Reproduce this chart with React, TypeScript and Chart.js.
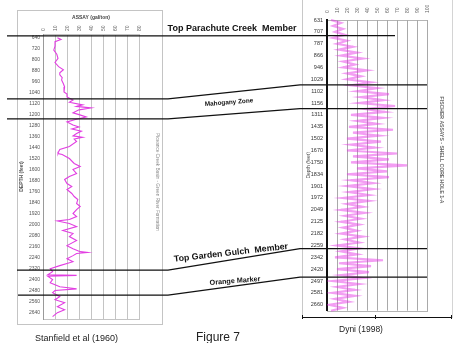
import React, { useEffect, useRef } from 'react';
import { Chart, registerables } from 'chart.js';

Chart.register(...registerables);

const FONT = '"Liberation Sans", Arial, Helvetica, sans-serif';

// ---------- Stanfield et al (1960): depth (feet) vs assay (gal/ton)
const stanfieldDepth = [
  640, 652, 668, 700, 730, 760, 790, 820, 850, 873, 895, 910, 930, 947, 975, 998,
  1034, 1050, 1071, 1093, 1110, 1129, 1140, 1151, 1165, 1187, 1200, 1217, 1235, 1253, 1275,
  1290, 1305, 1320, 1337, 1355, 1366, 1378, 1396, 1432, 1454, 1470, 1483, 1490, 1520, 1556,
  1578, 1600, 1630, 1651, 1673, 1702, 1724, 1746, 1775, 1797, 1819, 1848, 1870, 1892, 1921,
  1943, 1965, 1975, 1994, 2016, 2045, 2067, 2089, 2118, 2155, 2177, 2199, 2205, 2212, 2228,
  2250, 2272, 2301, 2323, 2345, 2367, 2372, 2378, 2403, 2425, 2455, 2470, 2482, 2498, 2527,
  2549, 2571, 2600, 2622, 2644, 2673,
];
const stanfieldAssay = [
  12, 15, 10, 10, 9, 11.5, 12.5, 10, 13, 17, 14, 14, 16, 15.5, 17, 18,
  17.5, 20, 20, 25, 22, 33, 28, 40, 30, 25, 30, 36, 27, 20, 25,
  30, 24, 32, 28, 25, 33, 26, 28, 22, 14, 13, 12.5, 16, 22, 26,
  31, 25, 28, 22, 18, 20, 24, 20, 24, 26, 29, 28, 31, 28, 25,
  28, 22, 12, 22, 28, 16.5, 25, 22, 28, 20, 25, 31, 37, 28, 25,
  20, 25, 14, 6, 8, 4, 28, 4, 8, 6, 14, 28, 10, 8, 14,
  10, 18, 12, 18, 12, 8,
];
const stanfieldDepthTicks = [
  640, 720, 800, 880, 960, 1040, 1120, 1200, 1280, 1360, 1440, 1520, 1600,
  1680, 1760, 1840, 1920, 2000, 2080, 2160, 2240, 2320, 2400, 2480, 2560, 2640,
];
const stanfieldAssayTicks = [0, 10, 20, 30, 40, 50, 60, 70, 80];

// ---------- Dyni (1998): labelled sample depths and assay per sample (4 samples per label)
const dyniDepthLabels = [
  '631', '707', '787', '866', '946', '1029', '1102', '1156', '1311', '1435', '1502', '1670',
  '1750', '1834', '1901', '1972', '2049', '2125', '2182', '2259', '2342', '2420', '2497', '2581', '2660',
];
const dyniAssay = [
  4, 14, 6, 16,
  8, 18, 6, 20,
  10, 26, 12, 30,
  14, 36, 16, 28,
  16, 40, 20, 34,
  20, 44, 24, 50,
  30, 62, 34, 56,
  32, 68, 38, 58,
  24, 56, 30, 50,
  22, 66, 26, 52,
  20, 54, 24, 48,
  20, 70, 26, 62,
  24, 80, 30, 60,
  20, 62, 24, 46,
  20, 46, 22, 42,
  16, 42, 20, 36,
  14, 38, 18, 34,
  14, 32, 16, 30,
  14, 36, 18, 32,
  10, 32, 14, 30,
  8, 56, 12, 44,
  10, 42, 14, 36,
  6, 32, 10, 28,
  6, 28, 8, 22,
  2, 16, 4,
];
const dyniAssayTicks = [0, 10, 20, 30, 40, 50, 60, 70, 80, 90, 100];
const dyniCategories = dyniDepthLabels.flatMap((l, i) =>
  i < dyniDepthLabels.length - 1 ? [l, '', '', ''] : [l, '', '']
);

// ---------- Correlation markers
const markerNames = [
  'Top Parachute Creek  Member',
  'Mahogany Zone',
  '',
  'Top Garden Gulch  Member',
  'Orange Marker',
];
const markerStanfieldDepth = [625, 1085, 1231, 2334, 2516];
const markerDyniSample = [5.3, 21.9, 29.9, 77.1, 86.7];

// ---------- layout (positions / styles)
const W = 454;
const H = 343;
const LEFT = { x: 17, y: 10, w: 146, h: 315 };
const RIGHT = { x: 302, y: 0, w: 151, h: 318 };
const BEND_LEFT = 168;
const BEND_RIGHT = 300;
const LINE_LAYOUT = [
  { x0: 7, x1: 395 },
  { x0: 7, x1: 427 },
  { x0: 7, x1: 427 },
  { x0: 17, x1: 427 },
  { x0: 18, x1: 427 },
];
const LABEL_LAYOUT = [
  { cx: 232, dy: -7.5, size: 9, rot: 0 },
  { cx: 229, dy: 10, size: 6.4, rot: -4.5 },
  null,
  { cx: 231, dy: -7, size: 8.8, rot: -6.5 },
  { cx: 235, dy: -5, size: 7.2, rot: -4.5 },
];

const makeFrame = (color: string) => ({
  id: 'plotFrame',
  beforeDraw(chart: any) {
    const { ctx, chartArea: a } = chart;
    ctx.save();
    ctx.strokeStyle = color;
    ctx.lineWidth = 1;
    ctx.strokeRect(Math.round(a.left) + 0.5, Math.round(a.top) + 0.5, Math.round(a.width), Math.round(a.height));
    ctx.restore();
  },
});

const makeSideText = (text: string, x: number, y: number, size: number, color: string, bold: boolean) => ({
  id: 'sideText',
  afterDraw(chart: any) {
    const ctx = chart.ctx;
    ctx.save();
    ctx.translate(x, y);
    ctx.rotate(Math.PI / 2);
    ctx.font = `${bold ? 'bold ' : ''}${size}px ${FONT}`;
    ctx.fillStyle = color;
    ctx.textAlign = 'center';
    ctx.textBaseline = 'middle';
    ctx.fillText(text, 0, 0);
    ctx.restore();
  },
});

const markerLabels = {
  id: 'markerLabels',
  afterDatasetsDraw(chart: any) {
    const ctx = chart.ctx;
    chart.data.datasets.forEach((_ds: any, i: number) => {
      const lay = LABEL_LAYOUT[i];
      const name = markerNames[i];
      if (!lay || !name) return;
      const pts = chart.getDatasetMeta(i).data.map((p: any) => ({ x: p.x, y: p.y }));
      let y = pts[0].y;
      for (let k = 0; k < pts.length - 1; k++) {
        const a = pts[k];
        const b = pts[k + 1];
        if (lay.cx >= a.x && lay.cx <= b.x) {
          y = a.y + ((b.y - a.y) * (lay.cx - a.x)) / (b.x - a.x);
          break;
        }
      }
      ctx.save();
      ctx.translate(lay.cx, y + lay.dy);
      ctx.rotate((lay.rot * Math.PI) / 180);
      ctx.font = `bold ${lay.size}px ${FONT}`;
      ctx.fillStyle = '#111';
      ctx.textAlign = 'center';
      ctx.textBaseline = 'middle';
      ctx.fillText(name, 0, 0);
      ctx.restore();
    });
  },
};

const fixedTicks = (values: number[]) => (s: any) => {
  s.ticks = values.map((v) => ({ value: v }));
};

export default function App() {
  const leftRef = useRef<HTMLCanvasElement>(null);
  const rightRef = useRef<HTMLCanvasElement>(null);
  const overRef = useRef<HTMLCanvasElement>(null);

  useEffect(() => {
    const tickFont = { family: FONT, size: 5 };
    const plain = (v: any) => String(v);

    const left = new Chart(leftRef.current as HTMLCanvasElement, {
      type: 'scatter',
      data: {
        datasets: [
          {
            data: stanfieldDepth.map((d, i) => ({ x: stanfieldAssay[i], y: d })),
            showLine: true,
            borderColor: 'rgb(226,62,226)',
            borderWidth: 1.1,
            pointRadius: 0,
            tension: 0,
          },
        ],
      },
      options: {
        animation: false,
        responsive: false,
        events: [],
        layout: { padding: { left: 0, right: 24, top: 0, bottom: 6 } },
        plugins: { legend: { display: false }, tooltip: { enabled: false } },
        scales: {
          x: {
            type: 'linear',
            position: 'top',
            min: 0,
            max: 80,
            afterBuildTicks: fixedTicks(stanfieldAssayTicks),
            ticks: { minRotation: 90, maxRotation: 90, padding: 3, labelOffset: 7, font: tickFont, color: '#666', callback: plain },
            grid: { color: '#c4c4c4', drawTicks: false, lineWidth: 1 },
            border: { display: false },
            title: {
              display: true,
              text: 'ASSAY (gal/ton)',
              font: { family: FONT, size: 5, weight: 'bold' },
              color: '#444',
              padding: { top: 5, bottom: 0 },
            },
            afterFit: (s: any) => {
              s.height = 24;
            },
          },
          y: {
            type: 'linear',
            reverse: true,
            min: 612,
            max: 2690,
            afterBuildTicks: fixedTicks(stanfieldDepthTicks),
            ticks: { padding: 3, font: tickFont, color: '#555', callback: plain },
            grid: { drawOnChartArea: false, drawTicks: false },
            border: { display: true, color: '#9a9a9a', width: 1 },
            title: {
              display: true,
              text: 'DEPTH (feet)',
              font: { family: FONT, size: 5, weight: 'bold' },
              color: '#555',
              padding: { top: 2, bottom: 0 },
            },
            afterFit: (s: any) => {
              s.width = 26;
            },
          },
        },
      } as any,
      plugins: [
        makeFrame('#c4c4c4'),
        makeSideText('Piceance Creek Basin - Green River Formation', 140, 172, 4.7, '#888', false),
      ],
    });

    const right = new Chart(rightRef.current as HTMLCanvasElement, {
      type: 'line',
      data: {
        labels: dyniCategories,
        datasets: [
          {
            data: dyniAssay,
            borderColor: 'rgba(228,40,228,0.45)',
            borderWidth: 2.2,
            pointRadius: 0,
            tension: 0,
          },
        ],
      },
      options: {
        indexAxis: 'y',
        animation: false,
        responsive: false,
        events: [],
        layout: { padding: { left: 0, right: 26, top: 0, bottom: 3 } },
        plugins: { legend: { display: false }, tooltip: { enabled: false } },
        scales: {
          x: {
            type: 'linear',
            position: 'top',
            min: 0,
            max: 100,
            afterBuildTicks: fixedTicks(dyniAssayTicks),
            ticks: { minRotation: 90, maxRotation: 90, padding: 7, labelOffset: 7, font: tickFont, color: '#666', callback: plain },
            grid: { color: '#a9a9a9', drawTicks: false, lineWidth: 1 },
            border: { display: false },
            afterFit: (s: any) => {
              s.height = 20;
            },
          },
          y: {
            type: 'category',
            ticks: { autoSkip: false, padding: 4, font: { family: FONT, size: 5.5 }, color: '#333' },
            grid: { drawOnChartArea: false, drawTicks: false },
            border: { display: true, color: '#111', width: 2 },
            title: {
              display: true,
              text: 'Depth (feet)',
              font: { family: FONT, size: 5 },
              color: '#444',
              padding: { top: 4, bottom: 0 },
            },
            afterFit: (s: any) => {
              s.width = 25;
            },
          },
        },
      } as any,
      plugins: [
        makeFrame('#b5b5b5'),
        makeSideText('FISCHER ASSAYS - SHELL CORE HOLE 1-A', 139, 150, 5.1, '#666', true),
      ],
    });

    const ly = (i: number) => LEFT.y + left.scales.y.getPixelForValue(markerStanfieldDepth[i]);
    const ry = (i: number) => RIGHT.y + right.scales.y.getPixelForValue(markerDyniSample[i]);

    const over = new Chart(overRef.current as HTMLCanvasElement, {
      type: 'scatter',
      data: {
        datasets: markerNames.map((_n, i) => ({
          data: [
            { x: LINE_LAYOUT[i].x0, y: ly(i) },
            { x: BEND_LEFT, y: ly(i) },
            { x: BEND_RIGHT, y: ry(i) },
            { x: LINE_LAYOUT[i].x1, y: ry(i) },
          ],
          showLine: true,
          borderColor: '#111',
          borderWidth: 1.3,
          pointRadius: 0,
          tension: 0,
          clip: false,
        })),
      },
      options: {
        animation: false,
        responsive: false,
        events: [],
        layout: { padding: 0 },
        plugins: { legend: { display: false }, tooltip: { enabled: false } },
        scales: {
          x: { type: 'linear', min: 0, max: W, display: false },
          y: { type: 'linear', min: 0, max: H, reverse: true, display: false },
        },
      } as any,
      plugins: [markerLabels],
    });

    return () => {
      over.destroy();
      right.destroy();
      left.destroy();
    };
  }, []);

  const abs = (x: number, y: number, w: number, h: number) => ({
    position: 'absolute' as const,
    left: x,
    top: y,
    width: w,
    height: h,
  });

  return (
    <div
      style={{
        position: 'absolute',
        left: 0,
        top: 0,
        width: W,
        height: H,
        background: '#fff',
        overflow: 'hidden',
        fontFamily: FONT,
      }}
    >
      {/* left panel frame */}
      <div style={{ ...abs(LEFT.x, LEFT.y, LEFT.w, LEFT.h), border: '1px solid #c4c4c4', boxSizing: 'border-box' }} />
      {/* right panel frame */}
      <div style={{ ...abs(302, 0, 1, 318), background: '#c8c8c8' }} />
      <div style={{ ...abs(452, 0, 1, 318), background: '#d4d4d4' }} />
      <div style={{ ...abs(302, 317, 150, 1), background: '#111' }} />
      <div style={{ ...abs(302, 315, 1, 4), background: '#111' }} />
      <div style={{ ...abs(375, 315, 1, 4), background: '#111' }} />
      <div style={{ ...abs(451, 315, 1, 4), background: '#111' }} />

      <canvas ref={leftRef} width={LEFT.w} height={LEFT.h} style={abs(LEFT.x, LEFT.y, LEFT.w, LEFT.h)} />
      <canvas ref={rightRef} width={RIGHT.w} height={RIGHT.h} style={abs(RIGHT.x, RIGHT.y, RIGHT.w, RIGHT.h)} />
      <canvas ref={overRef} width={W} height={H} style={abs(0, 0, W, H)} />

      <div style={{ position: 'absolute', left: 35, top: 334, fontSize: 9, lineHeight: 1, color: '#222', whiteSpace: 'nowrap' }}>
        Stanfield et al (1960)
      </div>
      <div style={{ position: 'absolute', left: 196, top: 331, fontSize: 12, lineHeight: 1, color: '#222', whiteSpace: 'nowrap' }}>
        Figure 7
      </div>
      <div style={{ position: 'absolute', left: 339, top: 325, fontSize: 8.5, lineHeight: 1, color: '#222', whiteSpace: 'nowrap' }}>
        Dyni (1998)
      </div>
    </div>
  );
}
